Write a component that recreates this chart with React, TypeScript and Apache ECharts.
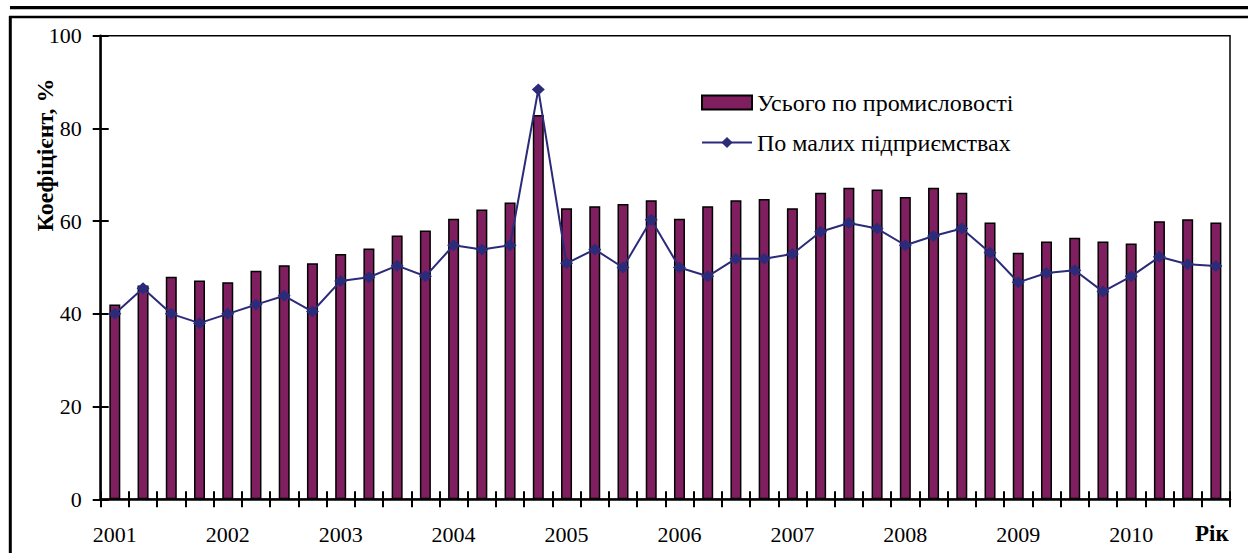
import React, { useEffect, useRef } from "react";
import * as echarts from "echarts";

const years = ["2001", "2002", "2003", "2004", "2005", "2006", "2007", "2008", "2009", "2010"];
const quarters = ["I", "II", "III", "IV"];
const categories = years.flatMap((y) => quarters.map((q) => `${y} ${q}`));

const industryTotal = [
  42.0, 46.1, 48.0, 47.2, 46.8, 49.3, 50.5, 50.9, 52.9, 54.1,
  56.9, 58.0, 60.5, 62.5, 64.0, 82.9, 62.8, 63.2, 63.7, 64.5,
  60.5, 63.2, 64.5, 64.8, 62.8, 66.1, 67.2, 66.8, 65.2, 67.2,
  66.1, 59.7, 53.2, 55.6, 56.4, 55.6, 55.2, 60.0, 60.4, 59.7,
];

const smallEnterprises = [
  40.0, 45.5, 40.0, 38.0, 40.0, 42.0, 43.9, 40.5, 47.1, 47.9,
  50.4, 48.1, 54.8, 53.9, 54.8, 88.4, 50.9, 53.9, 50.0, 60.3,
  50.0, 48.1, 51.9, 51.9, 52.9, 57.7, 59.6, 58.4, 54.8, 56.8,
  58.4, 53.2, 46.8, 48.8, 49.4, 44.8, 48.1, 52.3, 50.7, 50.3,
];

const seriesNames = ["Усього по промисловості", "По малих підприємствах"];
const yAxisName = "Коефіцієнт, %";
const xAxisName = "Рік";

const FONT = '"Liberation Serif", "Times New Roman", serif';

export default function App() {
  const ref = useRef<HTMLDivElement>(null);

  useEffect(() => {
    if (!ref.current) return;
    const chart = echarts.init(ref.current, undefined, { renderer: "svg" });
    chart.setOption({
      animation: false,
      backgroundColor: "#ffffff",
      textStyle: { fontFamily: FONT },
      grid: {
        left: 100.7,
        right: 18,
        top: 35.7,
        bottom: 53.7,
        show: true,
        borderColor: "#000",
        borderWidth: 1.5,
        backgroundColor: "transparent",
      },
      legend: {
        orient: "vertical",
        left: 696,
        top: 85.5,
        itemWidth: 50,
        itemHeight: 14,
        itemGap: 16,
        textStyle: { fontFamily: FONT, fontSize: 24, color: "#000" },
        data: [
          { name: seriesNames[0], icon: "rect" },
          { name: seriesNames[1] },
        ],
      },
      xAxis: [
        {
          type: "category",
          data: categories,
          boundaryGap: true,
          position: "bottom",
          axisLine: { show: true, lineStyle: { color: "#000", width: 2.5 } },
          axisTick: { show: true, interval: 0, length: 8, lineStyle: { color: "#000", width: 2 } },
          axisLabel: {
            interval: 3,
            margin: 24,
            color: "#000",
            fontFamily: FONT,
            fontSize: 22,
            formatter: (v: string) => v.split(" ")[0],
          },
          splitLine: { show: false },
        },
        {
          type: "category",
          data: categories,
          boundaryGap: true,
          position: "bottom",
          axisLine: { show: false },
          axisTick: { show: true, inside: true, interval: 0, length: 8, lineStyle: { color: "#000", width: 2 } },
          axisLabel: { show: false },
          splitLine: { show: false },
        },
      ],
      yAxis: [
        {
          type: "value",
          min: 0,
          max: 100,
          interval: 20,
          position: "left",
          axisLine: { show: true, lineStyle: { color: "#000", width: 2.5 } },
          axisTick: { show: true, length: 8, lineStyle: { color: "#000", width: 2 } },
          axisLabel: {
            margin: 19,
            color: "#000",
            fontFamily: FONT,
            fontSize: 22,
            padding: [10, 0, 0, 0],
          },
          splitLine: { show: false },
        },
        {
          type: "value",
          min: 0,
          max: 100,
          interval: 20,
          position: "left",
          axisLine: { show: false },
          axisTick: { show: true, inside: true, length: 8, lineStyle: { color: "#000", width: 2 } },
          axisLabel: { show: false },
          splitLine: { show: false },
        },
      ],
      series: [
        {
          name: seriesNames[0],
          type: "bar",
          data: industryTotal,
          barWidth: 11,
          itemStyle: { color: "#801f60", borderColor: "#000", borderWidth: 1.5 },
          z: 2,
        },
        {
          name: seriesNames[1],
          type: "line",
          data: smallEnterprises,
          symbol: "diamond",
          symbolSize: [13, 12],
          lineStyle: { color: "#2b2b7a", width: 2 },
          itemStyle: { color: "#2b2b7a" },
          z: 3,
        },
      ],
      graphic: [
        { type: "line", shape: { x1: 10, y1: 7.7, x2: 1248, y2: 7.7 }, style: { stroke: "#000", lineWidth: 3.3 } },
        { type: "line", shape: { x1: 9, y1: 17, x2: 1248, y2: 17 }, style: { stroke: "#000", lineWidth: 2.5 } },
        { type: "line", shape: { x1: 10.3, y1: 16, x2: 10.3, y2: 553 }, style: { stroke: "#000", lineWidth: 3 } },
        {
          type: "text",
          x: 45,
          y: 155,
          rotation: Math.PI / 2,
          style: {
            text: yAxisName,
            fontFamily: FONT,
            fontSize: 24,
            fontWeight: "bold",
            fill: "#000",
            align: "center",
            verticalAlign: "middle",
          },
        },
        {
          type: "text",
          x: 1195,
          y: 533,
          style: {
            text: xAxisName,
            fontFamily: FONT,
            fontSize: 23,
            fontWeight: "bold",
            fill: "#000",
            align: "left",
            verticalAlign: "middle",
          },
        },
      ],
    });
    return () => chart.dispose();
  }, []);

  return (
    <div
      ref={ref}
      style={{ position: "fixed", left: 0, top: 0, width: 1248, height: 553, background: "#fff" }}
    />
  );
}
